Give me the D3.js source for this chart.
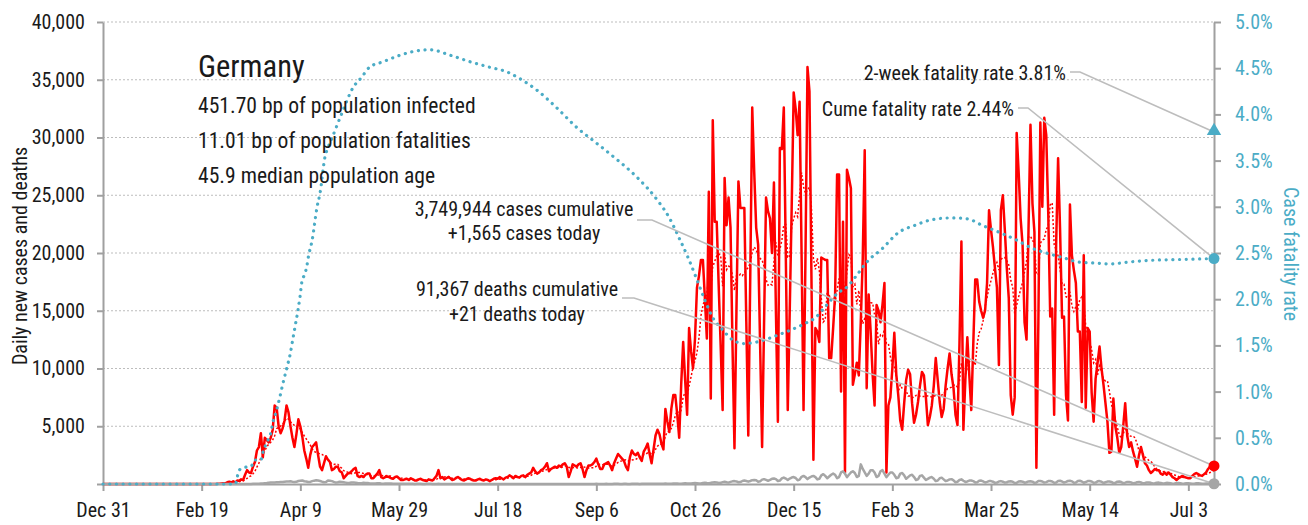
<!DOCTYPE html>
<html><head><meta charset="utf-8">
<script src="https://cdn.jsdelivr.net/npm/d3@7"></script>
<style>
html,body{margin:0;padding:0;background:#fff;}
svg{display:block;}
text{font-family:'Liberation Sans Narrow','Roboto Condensed','DejaVu Sans Condensed','Liberation Sans',sans-serif;font-stretch:condensed;}
</style></head><body>
<svg id="chart" width="1308" height="525"></svg>
<script>
// ---------- DATA ----------
const startDate = "2019-12-31";
const dailyCases = [
0,0,0,0,0,0,0,0,0,0,
0,0,0,0,0,0,0,0,0,0,
0,0,0,0,0,0,0,0,1,3,
0,1,1,0,1,0,0,2,0,0,
0,0,0,2,0,0,0,0,0,0,
0,0,0,0,0,0,2,10,20,30,
50,60,50,150,200,130,240,120,300,280,
400,350,800,1200,1000,950,1500,1900,2900,3200,
4400,2300,4000,3800,3600,4000,4700,6800,6600,5000,
4400,4800,5500,6800,6200,5000,4000,3200,4300,5600,
5000,4100,2900,2200,1400,2500,3200,3400,3600,2500,
1500,1200,1800,2400,2100,1900,1200,1300,1500,1500,
1100,1000,500,700,900,950,1100,1300,1400,700,
600,700,600,800,900,900,500,500,700,900,
1200,600,500,600,650,600,500,450,600,650,
500,350,350,400,450,350,500,400,300,300,
400,450,350,300,250,400,350,300,500,700,
1200,500,600,400,500,600,500,350,400,550,
600,450,350,300,400,500,450,350,300,300,
400,450,350,300,400,350,250,350,450,500,
450,600,500,400,550,600,750,650,500,700,
600,550,700,750,600,800,900,1000,1400,1100,
900,1000,1200,1300,1500,1800,1100,1300,1400,1500,
1400,1600,1500,1700,1800,1500,600,1100,1700,1600,
1500,1700,1800,1300,600,1200,1600,1600,1700,1900,
2200,1700,1300,1300,1700,1800,1900,1600,1200,1800,
2200,2600,2400,2200,2000,1500,1200,2300,2900,2600,
2500,2700,2300,2000,2800,3100,3500,2600,1800,3000,
4200,4700,4300,3500,3000,6500,5400,4500,6500,7700,
7700,6000,4000,8600,12300,9000,6000,13500,11500,10000,
12600,17000,18000,19400,19400,16100,12600,25300,7400,31500,
22700,22700,17200,12000,6400,26500,22400,24800,22200,12000,
3100,15000,26200,23900,23900,23900,14000,4200,18000,32600,
27000,22200,20700,12000,3200,14000,24800,23600,23000,20000,
26100,15000,5400,29100,29000,32600,20000,6400,15000,24000,
33900,32500,30200,33100,20000,6400,20000,36100,34000,18000,
2100,13500,13200,12300,19600,19500,19400,19400,10900,10900,
13500,16400,26800,26800,8000,22700,1000,27200,26500,25600,
8600,9500,10500,9400,14000,19500,28900,8300,16400,13200,
9500,6800,15500,15000,14000,15500,17400,1000,6800,7500,
10000,13100,9500,7700,5500,4700,7000,9000,9900,9500,
7000,5300,6000,7100,8500,9700,9400,7500,5100,5800,
6800,8500,10900,9000,7100,5800,6500,8500,10000,11300,
9500,8300,6000,5100,12000,21000,4700,9000,12700,9400,
6400,12000,17700,17700,15800,15000,14400,15000,17400,23700,
22000,20500,18700,17000,10300,23700,25000,22000,18700,16100,
7700,6000,7500,30400,27000,23000,20700,14000,12500,22000,
31100,24300,21800,1400,14000,31300,24000,31700,30200,23500,
14500,15200,6000,20700,28200,22000,14400,14500,7700,5500,
24200,19800,18500,17400,13200,13200,7100,19800,6600,13500,
13200,7900,5400,9100,10500,11900,10000,8600,7000,5400,
2700,2800,7400,5000,4000,2700,3200,5000,7000,4200,
3200,3600,2800,2200,1500,2500,3200,2500,1800,1600,
1200,950,1100,1300,1200,1200,900,800,1000,800,
1000,800,600,500,350,500,600,700,600,550,
500,500,700,850,950,850,750,700,850,1000,
1300,1500,1400,1565
];
const dailyDeaths = [
0,0,0,0,0,0,0,0,0,0,
0,0,0,0,0,0,0,0,0,0,
0,0,0,0,0,0,0,0,0,0,
0,0,0,0,0,0,0,0,0,0,
0,0,0,0,0,0,0,0,0,0,
0,0,0,0,0,0,0,0,0,0,
0,0,0,0,0,0,0,0,0,0,
1,2,2,3,5,10,15,20,25,30,
40,50,70,80,100,120,130,140,150,160,
170,180,200,210,220,230,200,180,190,260,
280,300,240,220,170,180,250,290,320,300,
260,200,150,170,300,280,250,180,120,150,
200,180,150,120,90,100,130,140,110,80,
60,70,100,90,80,60,50,40,50,70,
60,40,30,35,40,50,40,30,25,30,
30,25,20,15,20,25,20,15,10,15,
20,15,10,10,15,20,15,10,8,10,
12,10,8,6,8,10,8,6,5,8,
10,8,6,5,6,8,6,5,4,6,
8,6,5,4,5,6,5,4,3,5,
6,5,4,3,5,6,5,4,3,5,
6,5,4,4,6,7,5,4,3,5,
6,5,4,4,6,7,5,4,5,6,
7,6,4,5,8,10,5,4,6,8,
10,8,5,6,8,10,6,5,8,10,
12,10,6,8,10,12,8,6,10,12,
14,12,8,10,14,16,10,8,12,16,
20,18,10,14,20,24,16,12,18,24,
30,28,16,20,30,36,24,20,30,40,
45,40,25,30,50,60,40,35,50,70,
80,75,45,50,90,110,80,60,100,130,
150,140,90,100,160,200,150,120,180,230,
250,220,150,170,260,300,260,200,260,330,
350,320,200,230,380,420,350,280,360,450,
480,420,260,300,480,560,470,350,470,560,
600,520,320,380,620,700,600,420,560,650,
700,600,400,450,750,850,700,500,650,800,
900,800,500,600,1000,1100,900,600,800,1000,
1100,950,600,700,1700,1300,1000,700,900,1200,
1200,1000,600,700,1100,1200,900,600,800,1000,
1000,800,500,550,900,950,750,450,600,750,
800,600,350,400,700,750,550,350,450,550,
600,450,250,300,500,550,400,250,300,400,
420,320,150,200,350,400,280,180,220,300,
300,250,120,150,280,300,220,130,180,250,
250,200,100,120,220,250,200,120,150,220,
230,200,90,110,220,240,200,110,150,220,
240,200,100,120,250,260,220,120,160,250,
260,220,110,130,260,280,220,120,180,260,
280,230,110,130,260,280,220,110,170,250,
260,220,100,120,230,250,200,90,150,210,
220,180,80,100,200,220,170,80,120,180,
180,140,60,80,160,180,130,60,90,140,
130,100,40,60,110,120,90,40,60,100,
90,70,30,40,80,90,60,30,40,70,
60,50,20,30,60,70,50,20,30,50,
45,35,15,21
];
// case fatality rate (%) read at selected days
const cfrDays = [0,67,69,72,75,77,80,81,83,85,86,88,89.6,91.2,93.2,94.8,96.3,97.3,98.8,99.8,100.8,102.4,103.4,104,106,108.5,110,112.5,114,115,121,126.7,131,135,142,150.5,157,165.7,176,186,196,204.7,211,220,230,240,250,260.5,270.6,281,287,292,296.5,301,305,309,314,319,325,332,338,343,350,356,361,366,372.5,377,382,387,395,403,411.5,420,430,438,445.5,454.6,463,471,478,486.5,495,504,510,519,530.5,546,563];
const cfrValues = [0,0,0.15,0.18,0.19,0.26,0.26,0.34,0.45,0.55,0.66,0.80,0.94,1.09,1.26,1.40,1.58,1.70,1.88,2.02,2.19,2.28,2.37,2.45,2.64,3.00,3.15,3.54,3.64,3.69,4.01,4.29,4.40,4.51,4.57,4.64,4.68,4.70,4.64,4.57,4.51,4.46,4.39,4.26,4.07,3.86,3.69,3.51,3.32,3.07,2.88,2.66,2.45,2.21,1.99,1.80,1.67,1.56,1.52,1.54,1.58,1.62,1.68,1.74,1.80,1.92,2.07,2.13,2.26,2.40,2.55,2.72,2.80,2.86,2.88,2.87,2.80,2.72,2.64,2.55,2.50,2.45,2.40,2.39,2.38,2.40,2.42,2.43,2.44];
const xTickDays = [0,50,100,150,200,250,300,350,400,450,500,550];
const xTickLabels = ["Dec 31","Feb 19","Apr 9","May 29","Jul 18","Sep 6","Oct 26","Dec 15","Feb 3","Mar 25","May 14","Jul 3"];
const leftTicks = [0,5000,10000,15000,20000,25000,30000,35000,40000];
const rightTicks = [0,0.5,1.0,1.5,2.0,2.5,3.0,3.5,4.0,4.5,5.0];
const countryName = "Germany";
const infoLines = ["451.70 bp of population infected","11.01 bp of population fatalities","45.9 median population age"];
const twoWeekRate = 3.81;
const cumeRate = 2.44;
const casesLabel = ["3,749,944 cases cumulative","+1,565 cases today"];
const deathsLabel = ["91,367 deaths cumulative","+21 deaths today"];
const leftTitle = "Daily new cases and deaths";
const rightTitle = "Case fatality rate";

// ---------- CHART ----------
const RED = "#ff0000", TEAL = "#4bacc6", GREY = "#a6a6a6", AXIS = "#a0a0a0", INK = "#1a1a1a";
const svg = d3.select("#chart");
const L = 103, R = 1214, T = 22, B = 484;
const x = d3.scaleLinear().domain([0, dailyCases.length - 1]).range([L, R]);
const y = d3.scaleLinear().domain([0, 40000]).range([B, T]);
const yr = d3.scaleLinear().domain([0, 5]).range([B, T]);

// grid
svg.append("g").selectAll("line").data(leftTicks.filter(d => d > 0)).join("line")
  .attr("x1", L).attr("x2", R).attr("y1", d => y(d)).attr("y2", d => y(d))
  .attr("stroke", "#bdbdbd").attr("stroke-width", 1).attr("stroke-dasharray", "2,2");

// axes
const fmt = d3.format(",");
const gl = svg.append("g").attr("transform", `translate(${L},0)`)
  .call(d3.axisLeft(y).tickValues(leftTicks).tickFormat(d => d === 0 ? "" : fmt(d)).tickSize(6).tickSizeOuter(0).tickPadding(12));
const gr = svg.append("g").attr("transform", `translate(${R},0)`)
  .call(d3.axisRight(yr).tickValues(rightTicks).tickFormat(d => d.toFixed(1) + "%").tickSize(7).tickSizeOuter(0).tickPadding(14));
const gb = svg.append("g").attr("transform", `translate(0,${B})`)
  .call(d3.axisBottom(x).tickValues(xTickDays).tickFormat((d, i) => xTickLabels[i]).tickSize(7).tickSizeOuter(0).tickPadding(12));
[gl, gr, gb].forEach(g => {
  g.select(".domain").attr("stroke", AXIS).attr("stroke-width", 2);
  g.selectAll(".tick line").attr("stroke", AXIS).attr("stroke-width", 2);
  g.selectAll("text").attr("font-size", 20).attr("fill", INK)
    .style("font-family", "'Liberation Sans Narrow','Roboto Condensed','DejaVu Sans Condensed',sans-serif");
});
gr.selectAll("text").attr("fill", TEAL);

// 7-day average (trailing)
const avg = dailyCases.map((v, i) => d3.mean(dailyCases.slice(Math.max(0, i - 6), i + 1)));

const line = d3.line().x((d, i) => x(i)).y(d => y(d));
svg.append("path").datum(avg).attr("d", line).attr("fill", "none")
  .attr("stroke", RED).attr("stroke-width", 1.5).attr("stroke-dasharray", "2,2");
svg.append("path").datum(dailyCases).attr("d", line).attr("fill", "none")
  .attr("stroke", RED).attr("stroke-width", 2.5).attr("stroke-linejoin", "round");
svg.append("path").datum(dailyDeaths).attr("d", line).attr("fill", "none")
  .attr("stroke", GREY).attr("stroke-width", 2.5).attr("stroke-linejoin", "round");

// CFR dotted
const cfrLine = d3.line().x((d, i) => x(cfrDays[i])).y(d => yr(d)).curve(d3.curveMonotoneX);
svg.append("path").datum(cfrValues).attr("d", cfrLine).attr("fill", "none")
  .attr("stroke", TEAL).attr("stroke-width", 3.2).attr("stroke-linecap", "round").attr("stroke-dasharray", "0.1,6.6");

// leader lines
const n = dailyCases.length - 1;
const leaders = [
  [[637, 220], [652, 220], [x(n), y(dailyCases[n])]],
  [[622, 298], [634, 298], [x(n), y(dailyDeaths[n])]],
  [[1070, 72], [1080, 72], [R, yr(twoWeekRate)]],
  [[1018, 108], [1028, 108], [R, yr(cumeRate)]]
];
svg.append("g").selectAll("path").data(leaders).join("path")
  .attr("d", d => d3.line()(d)).attr("fill", "none").attr("stroke", "#bdbdbd").attr("stroke-width", 1.6);

// end markers
svg.append("circle").attr("cx", x(n)).attr("cy", y(dailyCases[n])).attr("r", 5.5).attr("fill", RED);
svg.append("circle").attr("cx", x(n)).attr("cy", y(dailyDeaths[n])).attr("r", 5.5).attr("fill", GREY);
svg.append("circle").attr("cx", R).attr("cy", yr(cumeRate)).attr("r", 5.5).attr("fill", TEAL);
svg.append("path").attr("d", d3.symbol(d3.symbolTriangle, 90)()).attr("transform", `translate(${R},${yr(twoWeekRate) - 1})`).attr("fill", TEAL);

// texts
const txt = (s, xx, yy, size, anchor, fill) => svg.append("text").text(s).attr("x", xx).attr("y", yy)
  .attr("font-size", size).attr("text-anchor", anchor || "start").attr("fill", fill || INK);
txt(countryName, 198, 77, 30.5, "start");
infoLines.forEach((s, i) => txt(s, 198, 113 + i * 35, 21.6, "start"));
txt("2-week fatality rate " + twoWeekRate.toFixed(2) + "%", 1066, 80, 20, "end");
txt("Cume fatality rate " + cumeRate.toFixed(2) + "%", 1014, 116, 20, "end");
txt(casesLabel[0], 524, 216, 20, "middle");
txt(casesLabel[1], 524, 240, 20, "middle");
txt(deathsLabel[0], 517, 296, 20, "middle");
txt(deathsLabel[1], 517, 321, 20, "middle");

svg.append("text").text(leftTitle).attr("transform", "translate(27,256) rotate(-90)")
  .attr("text-anchor", "middle").attr("font-size", 20).attr("fill", INK);
svg.append("text").text(rightTitle).attr("transform", "translate(1284,254) rotate(90)")
  .attr("text-anchor", "middle").attr("font-size", 20).attr("fill", TEAL);
</script>
</body></html>
